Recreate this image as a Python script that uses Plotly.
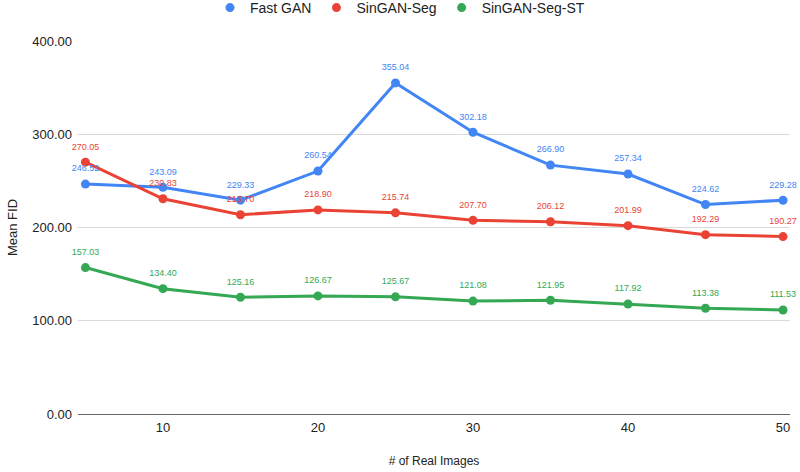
import plotly.graph_objects as go

x_vals = [5, 10, 15, 20, 25, 30, 35, 40, 45, 50]
fast_gan = [246.52, 243.09, 229.33, 260.54, 355.04, 302.18, 266.90, 257.34, 224.62, 229.28]
singan_seg = [270.05, 230.83, 213.70, 218.90, 215.74, 207.70, 206.12, 201.99, 192.29, 190.27]
singan_seg_st = [157.03, 134.40, 125.16, 126.67, 125.67, 121.08, 121.95, 117.92, 113.38, 111.53]
y_ticks = [0, 100, 200, 300, 400]
x_ticks = [10, 20, 30, 40, 50]

series = [
    ("Fast GAN", fast_gan, "#4285F4"),
    ("SinGAN-Seg", singan_seg, "#EA4335"),
    ("SinGAN-Seg-ST", singan_seg_st, "#34A853"),
]
FONT = "Arial, Liberation Sans, sans-serif"

fig = go.Figure()
for name, vals, color in series:
    fig.add_trace(go.Scatter(
        x=x_vals, y=vals, name=name, showlegend=False,
        mode="lines+markers",
        line=dict(color=color, width=3),
        marker=dict(color=color, size=9),
        cliponaxis=False,
    ))
for name, vals, color in series:
    fig.add_trace(go.Scatter(
        x=x_vals, y=vals, name=name, showlegend=False,
        mode="markers+text", hoverinfo="skip",
        marker=dict(color=color, size=15, opacity=0),
        text=[f"{v:.2f}" for v in vals],
        textposition="top center",
        textfont=dict(color=color, size=9, family=FONT),
        cliponaxis=False,
    ))
for name, vals, color in series:
    fig.add_trace(go.Scatter(
        x=[None], y=[None], name=name, mode="markers",
        marker=dict(color=color, size=9),
    ))

fig.update_layout(
    width=800, height=472,
    margin=dict(l=78, r=10, t=41, b=58, autoexpand=False),
    plot_bgcolor="white", paper_bgcolor="white",
    font=dict(family=FONT, color="#222222", size=13),
    legend=dict(orientation="h", x=0.5, xref="container", xanchor="center",
                y=1 - 8 / 472, yanchor="middle", yref="container",
                font=dict(size=14), itemwidth=30, tracegroupgap=0),
    xaxis=dict(
        range=[4.52, 50.45], tickvals=x_ticks,
        showgrid=False, zeroline=False, showline=False,
        ticks="", tickfont=dict(size=13), ticklabelstandoff=4,
        title=dict(text="# of Real Images", font=dict(size=12), standoff=22),
    ),
    yaxis=dict(
        range=[0, 400], tickvals=y_ticks, tickformat=".2f",
        showgrid=True, gridcolor="#d9d9d9", gridwidth=1,
        zeroline=True, zerolinecolor="#666666", zerolinewidth=1,
        tickfont=dict(size=13), ticklabelstandoff=5,
        title=dict(text="Mean FID", font=dict(size=13), standoff=11),
    ),
)

fig.write_html("out.html", config={"displayModeBar": False},
               post_script="document.body.style.margin='0';")
